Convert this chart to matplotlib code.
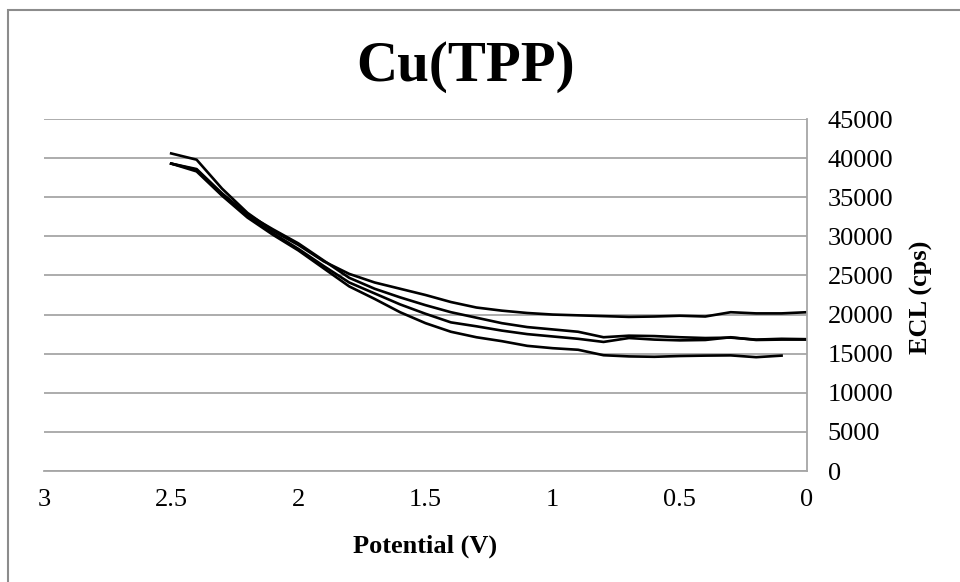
import matplotlib
matplotlib.use("Agg")
import matplotlib.pyplot as plt
from matplotlib.patches import Rectangle

plt.rcParams['font.family'] = ['Liberation Serif', 'DejaVu Serif']

# potential (V), scanned from 2.5 V down to 0 V
potential = [2.5, 2.4, 2.3, 2.2, 2.1, 2.0, 1.9, 1.8, 1.7, 1.6, 1.5, 1.4, 1.3,
             1.2, 1.1, 1.0, 0.9, 0.8, 0.7, 0.6, 0.5, 0.4, 0.3, 0.2, 0.1, 0.0]

ecl_run1 = [40600, 39800, 36100, 33000, 30700, 28900, 26800, 25200, 24100, 23300,
            22500, 21600, 20900, 20500, 20200, 20000, 19900, 19800, 19700, 19750,
            19850, 19750, 20300, 20150, 20150, 20300]
ecl_run2 = [39300, 38600, 35500, 32800, 30900, 29100, 26900, 24700, 23300, 22200,
            21200, 20300, 19600, 18900, 18400, 18100, 17800, 17100, 17300, 17250,
            17100, 17000, 17050, 16800, 16900, 16850]
ecl_run3 = [39300, 38500, 35300, 32600, 30400, 28400, 26200, 24100, 22700, 21300,
            20100, 19000, 18500, 17950, 17500, 17200, 16900, 16500, 17000, 16800,
            16700, 16750, 17100, 16750, 16800, 16800]
ecl_run4 = [39300, 38300, 35200, 32400, 30200, 28200, 25900, 23600, 22000, 20300,
            18900, 17800, 17100, 16600, 16000, 15700, 15500, 14800, 14650, 14600,
            14700, 14750, 14780, 14550, 14750]

y_ticks = [0, 5000, 10000, 15000, 20000, 25000, 30000, 35000, 40000, 45000]
x_ticks = [3, 2.5, 2, 1.5, 1, 0.5, 0]
x_labels = ['3', '2.5', '2', '1.5', '1', '0.5', '0']

W, H = 960, 582
fig = plt.figure(figsize=(9.6, 5.82), dpi=100)

# chart frame (cropped at right and bottom)
fig.patches.append(Rectangle((8 / W, -0.1), 1.2, (H - 10) / H + 0.1,
                             transform=fig.transFigure, fill=False,
                             edgecolor='#8c8c8c', linewidth=1.5))

ax = fig.add_axes([44 / W, 111 / H, (807 - 44) / W, (471 - 119) / H])

for run in [ecl_run1, ecl_run2, ecl_run3, ecl_run4]:
    ax.plot(potential[:len(run)], run, color='black', linewidth=1.9)

ax.set_xlim(3, 0)
ax.set_ylim(0, 45000)
ax.set_yticks(y_ticks)
ax.set_xticks(x_ticks)
ax.set_xticklabels(x_labels)
ax.yaxis.tick_right()
ax.tick_params(axis='y', length=0, pad=15, labelsize=19)
ax.tick_params(axis='x', length=0, pad=13, labelsize=19)

ax.grid(axis='y', color='#a6a6a6', linewidth=1.3)
ax.set_axisbelow(True)
for side in ['left', 'top']:
    ax.spines[side].set_visible(False)
ax.spines['right'].set_color('#a6a6a6')
ax.spines['bottom'].set_color('#a6a6a6')
ax.spines['right'].set_linewidth(1.3)
ax.spines['bottom'].set_linewidth(1.3)

fig.text(466 / W, 1 - 67 / H, 'Cu(TPP)', fontsize=41, fontweight='bold',
         ha='center', va='center')
fig.text(425 / W, 1 - 546 / H, 'Potential (V)', fontsize=19, fontweight='bold',
         ha='center', va='center')
fig.text(921 / W, 1 - 297 / H, 'ECL (cps)', fontsize=19, fontweight='bold',
         ha='center', va='center', rotation=90)

fig.savefig('out.png', dpi=100)
